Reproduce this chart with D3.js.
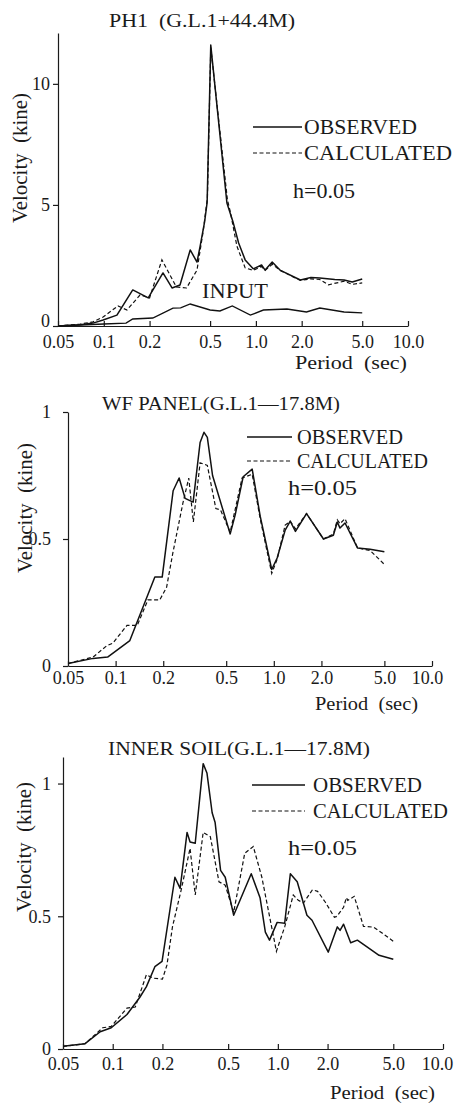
<!DOCTYPE html>
<html>
<head>
<meta charset="utf-8">
<script src="https://cdn.jsdelivr.net/npm/d3@7"></script>
<style>
  body { margin: 0; background: #fff; }
  svg text { font-family: "Liberation Serif", "DejaVu Serif", serif; fill: #1a1a1a; }
</style>
</head>
<body>
<div class="figure"></div>
<script>
const w = 454;
const h = 1104;

// period axis (sec)
const periodTicks = [0.05, 0.1, 0.2, 0.5, 1, 2, 5, 10];
const periodTickLabels = ["0.05", "0.1", "0.2", "0.5", "1.0", "2.0", "5.0", "10.0"];

// PH1 (G.L.1+44.4M)  [period, velocity]
const ph1Observed = [[0.05,0],[0.07,0.05],[0.085,0.12],[0.099,0.25],[0.122,0.45],[0.155,1.49],[0.196,1.16],
  [0.245,2.19],[0.281,1.57],[0.317,1.69],[0.37,3.14],[0.41,2.64],[0.43,3.3],[0.46,4.3],[0.478,5.1],[0.505,11.6],
  [0.645,5.08],[0.71,4.26],[0.77,3.43],[0.85,2.73],[0.96,2.36],[1.09,2.52],[1.15,2.31],[1.28,2.64],[1.44,2.31],
  [1.96,1.9],[2.3,2.0],[2.63,1.98],[3.3,1.92],[3.8,1.9],[4.3,1.82],[5.0,1.94]];
const ph1Calculated = [[0.05,0],[0.07,0.08],[0.085,0.17],[0.099,0.37],[0.124,0.83],[0.142,0.66],[0.173,1.28],
  [0.2,1.16],[0.241,2.73],[0.3,1.61],[0.35,1.57],[0.41,2.31],[0.45,3.9],[0.48,5.3],[0.505,11.5],[0.65,5.2],
  [0.68,4.7],[0.75,3.3],[0.85,2.4],[0.96,2.3],[1.09,2.45],[1.15,2.3],[1.28,2.55],[1.44,2.3],[1.96,1.88],
  [2.3,1.95],[2.63,1.92],[3.0,1.7],[3.8,1.85],[4.3,1.72],[5.0,1.78]];
const ph1Input = [[0.05,0],[0.1,0.08],[0.14,0.12],[0.155,0.29],[0.21,0.33],[0.285,0.74],[0.32,0.75],[0.37,0.91],
  [0.5,0.66],[0.58,0.62],[0.7,0.83],[0.92,0.45],[1.12,0.66],[1.6,0.7],[2.15,0.58],[2.63,0.74],[3.8,0.58],[5.0,0.54]];

// WF PANEL (G.L.1-17.8M)
const wfObserved = [[0.05,0.01],[0.072,0.03],[0.089,0.035],[0.123,0.10],[0.177,0.35],[0.197,0.35],[0.231,0.69],
  [0.252,0.74],[0.275,0.66],[0.309,0.645],[0.342,0.88],[0.362,0.92],[0.38,0.90],[0.41,0.75],[0.53,0.52],[0.57,0.595],
  [0.64,0.745],[0.73,0.775],[0.82,0.59],[0.97,0.38],[1.05,0.425],[1.18,0.535],[1.27,0.57],[1.37,0.53],[1.61,0.60],
  [2.06,0.5],[2.38,0.515],[2.52,0.567],[2.62,0.543],[2.82,0.563],[3.38,0.465],[4.06,0.46],[5.0,0.45]];
const wfCalculated = [[0.05,0.01],[0.072,0.035],[0.088,0.08],[0.096,0.09],[0.118,0.16],[0.137,0.16],[0.16,0.26],
  [0.19,0.26],[0.21,0.31],[0.23,0.445],[0.266,0.64],[0.29,0.74],[0.31,0.567],[0.342,0.80],[0.38,0.79],[0.43,0.62],
  [0.46,0.615],[0.53,0.527],[0.63,0.74],[0.73,0.755],[0.82,0.58],[0.97,0.365],[1.05,0.42],[1.18,0.555],[1.27,0.57],
  [1.37,0.54],[1.61,0.6],[2.06,0.5],[2.38,0.52],[2.52,0.575],[2.62,0.56],[2.82,0.58],[3.38,0.465],[4.06,0.455],[5.0,0.40]];

// INNER SOIL (G.L.1-17.8M)
const soilObserved = [[0.05,0.01],[0.068,0.02],[0.084,0.065],[0.098,0.08],[0.122,0.13],[0.146,0.195],[0.16,0.235],
  [0.18,0.31],[0.199,0.33],[0.238,0.647],[0.256,0.605],[0.282,0.816],[0.294,0.78],[0.316,0.775],[0.353,1.075],
  [0.372,1.04],[0.4,0.89],[0.417,0.853],[0.45,0.673],[0.48,0.647],[0.54,0.504],[0.69,0.66],[0.78,0.57],[0.84,0.44],
  [0.89,0.41],[0.99,0.477],[1.1,0.474],[1.19,0.66],[1.31,0.63],[1.5,0.504],[1.61,0.485],[2.02,0.365],[2.29,0.46],
  [2.38,0.447],[2.5,0.47],[2.76,0.4],[3.03,0.41],[3.5,0.383],[4.1,0.353],[5.0,0.338]];
const soilCalculated = [[0.05,0.01],[0.068,0.02],[0.087,0.08],[0.098,0.085],[0.122,0.154],[0.137,0.158],[0.16,0.28],
  [0.175,0.267],[0.2,0.263],[0.213,0.316],[0.23,0.46],[0.26,0.6],[0.294,0.756],[0.316,0.58],[0.353,0.816],[0.39,0.80],
  [0.44,0.63],[0.48,0.617],[0.54,0.515],[0.63,0.737],[0.71,0.763],[0.8,0.647],[0.98,0.368],[1.1,0.46],[1.24,0.58],
  [1.33,0.56],[1.43,0.55],[1.62,0.6],[1.74,0.594],[1.94,0.553],[2.2,0.496],[2.28,0.5],[2.5,0.534],[2.6,0.57],
  [2.65,0.56],[2.9,0.575],[3.3,0.462],[3.8,0.459],[4.3,0.436],[5.0,0.406]];

const serif = '"Liberation Serif", "DejaVu Serif", serif';

// layout of the three panels
const panels = [
  { title: "PH1  (G.L.1+44.4M)", tx: 109, ty: 27, tw: 186,
    x0: 58, x1: 408, yBase: 326, yTop: 33, yMax: 12.1, yTicks: [0, 5, 10], yPad: 3, yDy: "0em", xLabY: 9, tickSize: 18, lastDx: 0,
    obs: ph1Observed, calc: ph1Calculated, input: ph1Input,
    legX: 253, legX2: 302, legY: [127, 153], legTx: 304, legTw: [113, 148], legSize: 21,
    hx: 293, hy: 198, hw: 62, ylx: 27, yly: 158, px: 295, py: 369, pw: 112 },
  { title: "WF PANEL(G.L.1—17.8M)", tx: 102, ty: 410, tw: 238,
    x0: 68, x1: 432, yBase: 666, yTop: 412, yMax: 1, yTicks: [0, 0.5, 1], yPad: 12, yDy: "0.32em", xLabY: 5, tickSize: 18, lastDx: -5,
    obs: wfObserved, calc: wfCalculated,
    legX: 247, legX2: 292, legY: [437, 461], legTx: 297, legTw: [106, 131], legSize: 20,
    hx: 288, hy: 495, hw: 69, ylx: 32, yly: 508, px: 315, py: 710, pw: 103 },
  { title: "INNER SOIL(G.L.1—17.8M)", tx: 108, ty: 755, tw: 262,
    x0: 63, x1: 443, yBase: 1049, yTop: 757, yMax: 1.1, yTicks: [0, 0.5, 1], yPad: 7, yDy: "0.32em", xLabY: 8, tickSize: 18, lastDx: -6,
    obs: soilObserved, calc: soilCalculated,
    legX: 252, legX2: 305, legY: [785, 811], legTx: 313, legTw: [109, 135], legSize: 20.5,
    hx: 288, hy: 855, hw: 69, ylx: 31, yly: 847, px: 330, py: 1099, pw: 105 }
];

let svg = d3.select("body").select(".figure")
  .append("svg")
  .attr("width", w)
  .attr("height", h);

panels.forEach(drawPanel);

// make sure every label uses the serif face
svg.selectAll("text").style("font-family", serif).attr("fill", "#1a1a1a");

function drawPanel(p) {
  let x = d3.scaleLog().domain([0.05, 10]).range([p.x0, p.x1]);
  let y = d3.scaleLinear().domain([0, p.yMax]).range([p.yBase, p.yTop]);

  // x axis, ticks pointing up
  let gx = svg.append("g")
    .attr("transform", "translate(0," + p.yBase + ")")
    .call(d3.axisBottom(x)
      .tickValues(periodTicks)
      .tickFormat((d, i) => periodTickLabels[i])
      .tickSizeInner(-5)
      .tickSizeOuter(0)
      .tickPadding(p.xLabY));
  gx.selectAll("text").style("font-size", p.tickSize + "px");
  gx.selectAll(".tick text").filter(d => d === 10).attr("dx", p.lastDx);

  // y axis
  let gy = svg.append("g")
    .attr("transform", "translate(" + p.x0 + ",0)")
    .call(d3.axisLeft(y)
      .tickValues(p.yTicks)
      .tickFormat(d3.format("~g"))
      .tickSize(5)
      .tickSizeOuter(0)
      .tickPadding(p.yPad));
  gy.selectAll("text").style("font-size", p.tickSize + "px");
  gy.selectAll(".tick text").filter(d => d === 0).attr("dy", p.yDy);

  svg.selectAll(".domain, .tick line").attr("stroke", "#1a1a1a").attr("stroke-width", 1.2);

  let line = d3.line()
    .x(d => x(d[0]))
    .y(d => y(d[1]));

  svg.append("path").datum(p.obs)
    .attr("d", line).attr("fill", "none")
    .attr("stroke", "#111").attr("stroke-width", 1.5).attr("stroke-linejoin", "round");

  svg.append("path").datum(p.calc)
    .attr("d", line).attr("fill", "none")
    .attr("stroke", "#111").attr("stroke-width", 1.2).attr("stroke-dasharray", "4,2.5");

  if (p.input) {
    svg.append("path").datum(p.input)
      .attr("d", line).attr("fill", "none")
      .attr("stroke", "#111").attr("stroke-width", 1.4);
    svg.append("text").attr("x", 202).attr("y", 298)
      .attr("textLength", 66).attr("lengthAdjust", "spacingAndGlyphs")
      .style("font-size", "22px").text("INPUT");
  }

  // title
  svg.append("text").attr("x", p.tx).attr("y", p.ty)
    .attr("textLength", p.tw).attr("lengthAdjust", "spacingAndGlyphs")
    .style("font-size", "18px").style("white-space", "pre").text(p.title);

  // legend
  svg.append("line").attr("x1", p.legX).attr("x2", p.legX2)
    .attr("y1", p.legY[0]).attr("y2", p.legY[0])
    .attr("stroke", "#111").attr("stroke-width", 1.3);
  svg.append("line").attr("x1", p.legX).attr("x2", p.legX2)
    .attr("y1", p.legY[1]).attr("y2", p.legY[1])
    .attr("stroke", "#111").attr("stroke-width", 1.2).attr("stroke-dasharray", "4,2.5");
  svg.append("text").attr("x", p.legTx).attr("y", p.legY[0] + 7)
    .attr("textLength", p.legTw[0]).attr("lengthAdjust", "spacingAndGlyphs")
    .style("font-size", p.legSize + "px").text("OBSERVED");
  svg.append("text").attr("x", p.legTx).attr("y", p.legY[1] + 7)
    .attr("textLength", p.legTw[1]).attr("lengthAdjust", "spacingAndGlyphs")
    .style("font-size", p.legSize + "px").text("CALCULATED");

  svg.append("text").attr("x", p.hx).attr("y", p.hy)
    .attr("textLength", p.hw).attr("lengthAdjust", "spacingAndGlyphs")
    .style("font-size", "20px").text("h=0.05");

  // axis titles
  svg.append("text")
    .attr("transform", "translate(" + p.ylx + "," + p.yly + ") rotate(-90)")
    .attr("text-anchor", "middle")
    .attr("textLength", 130).attr("lengthAdjust", "spacingAndGlyphs")
    .style("font-size", "20px").style("white-space", "pre").text("Velocity  (kine)");

  svg.append("text").attr("x", p.px).attr("y", p.py)
    .attr("textLength", p.pw).attr("lengthAdjust", "spacingAndGlyphs")
    .style("font-size", "19px").style("white-space", "pre").text("Period  (sec)");
}
</script>
</body>
</html>
